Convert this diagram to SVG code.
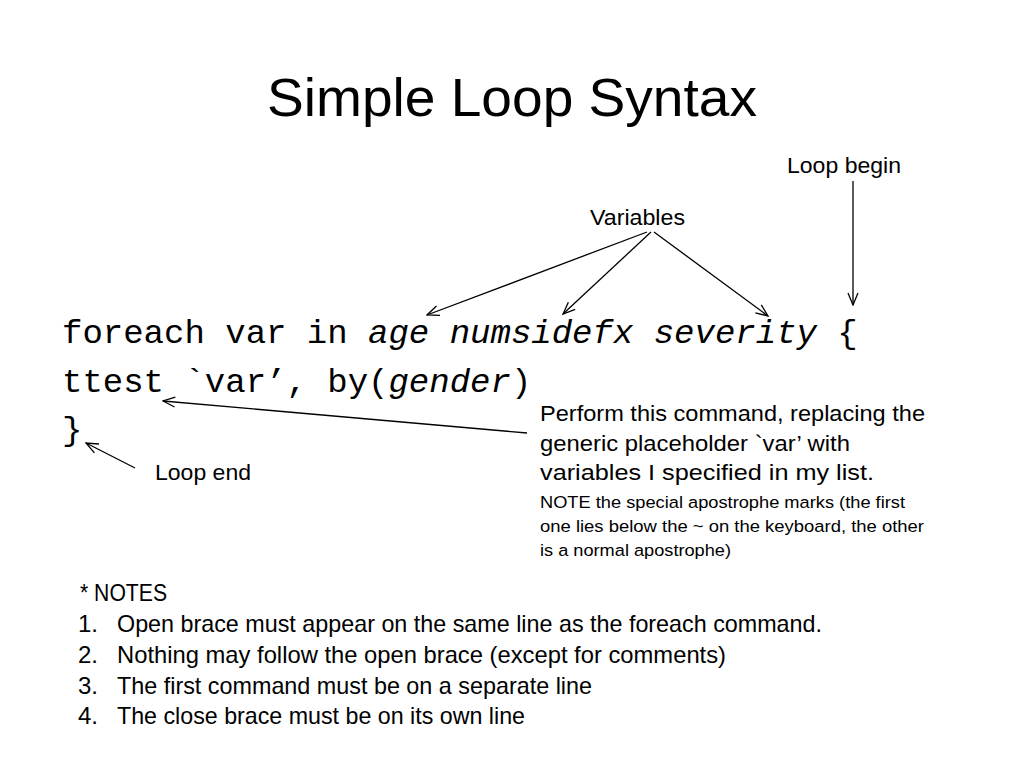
<svg xmlns="http://www.w3.org/2000/svg" width="1024" height="768" viewBox="0 0 1024 768">
<style>
.t{font-family:"Liberation Sans","Arial",sans-serif;fill:#000}
.code{font-family:"Liberation Mono","Courier New",monospace;font-size:34px;fill:#000}
.it{font-style:italic}
.lbl{font-size:21.6px}
.note{font-size:16.8px}
.list{font-size:24px}
.conn line{stroke:#000;stroke-width:1.3;fill:none;marker-end:url(#arr)}
</style>
<defs>
<marker id="arr" viewBox="0 0 14 12" refX="13" refY="6" markerWidth="14" markerHeight="12" markerUnits="userSpaceOnUse" orient="auto">
<path d="M1,1 L13,6 L1,11" fill="none" stroke="#000" stroke-width="1.3"/>
</marker>
</defs>
<rect width="1024" height="768" fill="#fff"/>
<g id="title"><text class="t" x="267" y="116" font-size="52.8" textLength="490" lengthAdjust="spacingAndGlyphs">Simple Loop Syntax</text></g>
<g id="code">
<text class="code" x="62" y="343">foreach var in <tspan class="it">age numsidefx severity</tspan> {</text>
<text class="code" x="62" y="392">ttest `var’, by(<tspan class="it">gender</tspan>)</text>
<text class="code" x="62" y="440">}</text>
</g>
<g id="loop-begin"><text class="t lbl" x="787" y="173" textLength="114" lengthAdjust="spacingAndGlyphs">Loop begin</text></g>
<g id="variables"><text class="t lbl" x="590" y="225" textLength="95" lengthAdjust="spacingAndGlyphs">Variables</text></g>
<g id="loop-end"><text class="t lbl" x="155" y="480" textLength="96" lengthAdjust="spacingAndGlyphs">Loop end</text></g>
<g id="perform">
<text class="t lbl" x="540" y="421" textLength="385" lengthAdjust="spacingAndGlyphs">Perform this command, replacing the</text>
<text class="t lbl" x="540" y="451" textLength="310" lengthAdjust="spacingAndGlyphs">generic placeholder `var’ with</text>
<text class="t lbl" x="540" y="480" textLength="334" lengthAdjust="spacingAndGlyphs">variables I specified in my list.</text>
<text class="t note" x="540" y="508" textLength="365" lengthAdjust="spacingAndGlyphs">NOTE the special apostrophe marks (the first</text>
<text class="t note" x="540" y="532" textLength="384" lengthAdjust="spacingAndGlyphs">one lies below the ~ on the keyboard, the other</text>
<text class="t note" x="540" y="556" textLength="191" lengthAdjust="spacingAndGlyphs">is a normal apostrophe)</text>
</g>
<g id="notes">
<text class="t list" x="80" y="601" textLength="87" lengthAdjust="spacingAndGlyphs">* NOTES</text>
<text class="t list" x="78" y="632">1.</text>
<text class="t list" x="117" y="632" textLength="705" lengthAdjust="spacingAndGlyphs">Open brace must appear on the same line as the foreach command.</text>
<text class="t list" x="78" y="663">2.</text>
<text class="t list" x="117" y="663" textLength="609" lengthAdjust="spacingAndGlyphs">Nothing may follow the open brace (except for comments)</text>
<text class="t list" x="78" y="694">3.</text>
<text class="t list" x="117" y="694" textLength="475" lengthAdjust="spacingAndGlyphs">The first command must be on a separate line</text>
<text class="t list" x="78" y="724">4.</text>
<text class="t list" x="117" y="724" textLength="408" lengthAdjust="spacingAndGlyphs">The close brace must be on its own line</text>
</g>
<g id="connectors" class="conn">
<line x1="647" y1="232" x2="427" y2="315"/>
<line x1="651" y1="232" x2="563" y2="314"/>
<line x1="654" y1="232" x2="768" y2="316"/>
<line x1="853" y1="181" x2="853" y2="305"/>
<line x1="527" y1="433" x2="163" y2="401"/>
<line x1="135" y1="468" x2="86" y2="443"/>
</g>
</svg>
